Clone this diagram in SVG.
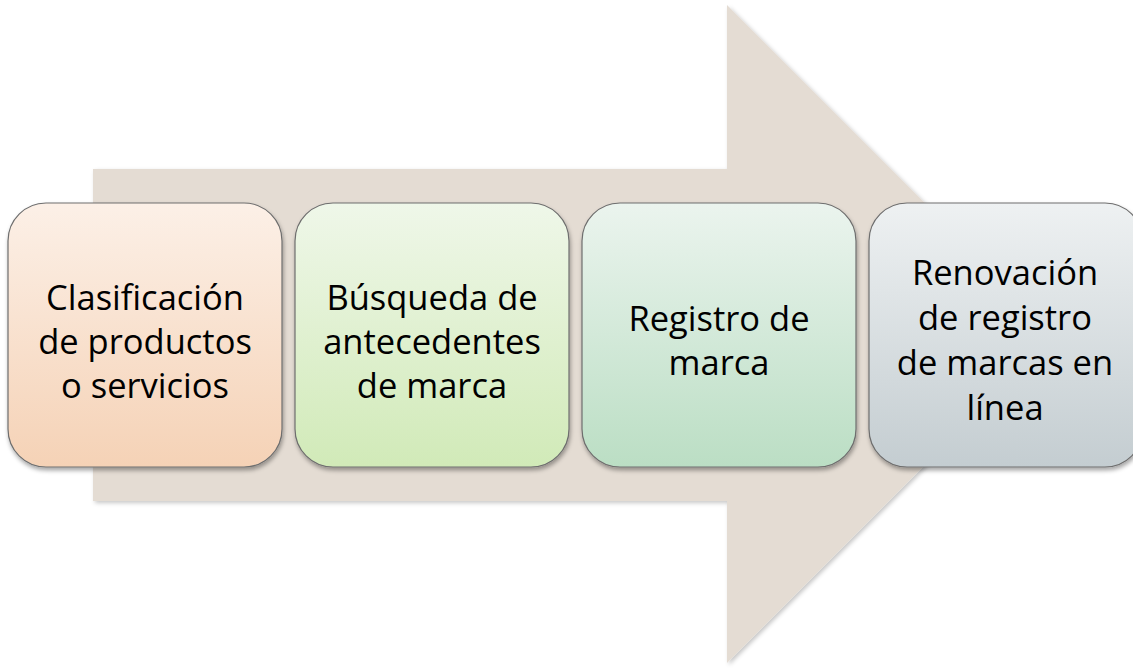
<svg xmlns="http://www.w3.org/2000/svg" width="1133" height="672" viewBox="0 0 1133 672">
  <style>
    .box { stroke: #6e6e6e; stroke-width: 1.2; filter: url(#shadow); }
    .label { font-family: "Open Sans", "Noto Sans", sans-serif; font-size: 34.5px; fill: #000000; text-anchor: middle; }
  </style>
  <defs>
    <filter id="shadow" x="-10%" y="-10%" width="125%" height="130%">
      <feDropShadow dx="1" dy="3" stdDeviation="2.2" flood-color="#000000" flood-opacity="0.35"/>
    </filter>
    <filter id="ashadow" x="-5%" y="-5%" width="115%" height="115%">
      <feDropShadow dx="2" dy="2" stdDeviation="2" flood-color="#000000" flood-opacity="0.22"/>
    </filter>
    <linearGradient id="g1" x1="0" y1="0" x2="0" y2="1">
      <stop offset="0" stop-color="#fcf0e7"/>
      <stop offset="1" stop-color="#f5d2b6"/>
    </linearGradient>
    <linearGradient id="g2" x1="0" y1="0" x2="0" y2="1">
      <stop offset="0" stop-color="#eff7e9"/>
      <stop offset="1" stop-color="#d1eab8"/>
    </linearGradient>
    <linearGradient id="g3" x1="0" y1="0" x2="0" y2="1">
      <stop offset="0" stop-color="#ebf4ee"/>
      <stop offset="1" stop-color="#bbdec4"/>
    </linearGradient>
    <linearGradient id="g4" x1="0" y1="0" x2="0" y2="1">
      <stop offset="0" stop-color="#eef1f2"/>
      <stop offset="1" stop-color="#c4cdd1"/>
    </linearGradient>
  </defs>
  <rect x="0" y="0" width="1133" height="672" fill="#ffffff"/>
  <g id="arrow">
    <polygon points="93,169 727,169 727,5 1056,334 727,663 727,501 93,501" fill="#e4dcd3" filter="url(#ashadow)"/>
  </g>
  <g id="connectors"></g>
  <g id="node1">
    <rect class="box" x="8" y="203" width="274" height="264" rx="38" ry="38" fill="url(#g1)"/>
    <text class="label"><tspan x="145" y="310">Clasificación</tspan><tspan x="145" y="354">de productos</tspan><tspan x="145" y="398">o servicios</tspan></text>
  </g>
  <g id="node2">
    <rect class="box" x="295" y="203" width="274" height="264" rx="38" ry="38" fill="url(#g2)"/>
    <text class="label"><tspan x="432" y="310">Búsqueda de</tspan><tspan x="432" y="354">antecedentes</tspan><tspan x="432" y="398">de marca</tspan></text>
  </g>
  <g id="node3">
    <rect class="box" x="582" y="203" width="274" height="264" rx="38" ry="38" fill="url(#g3)"/>
    <text class="label"><tspan x="719" y="331">Registro de</tspan><tspan x="719" y="375">marca</tspan></text>
  </g>
  <g id="node4">
    <rect class="box" x="869" y="203" width="274" height="264" rx="38" ry="38" fill="url(#g4)"/>
    <text class="label"><tspan x="1005" y="285">Renovación</tspan><tspan x="1005" y="330">de registro</tspan><tspan x="1005" y="375">de marcas en</tspan><tspan x="1005" y="420">línea</tspan></text>
  </g>
</svg>
